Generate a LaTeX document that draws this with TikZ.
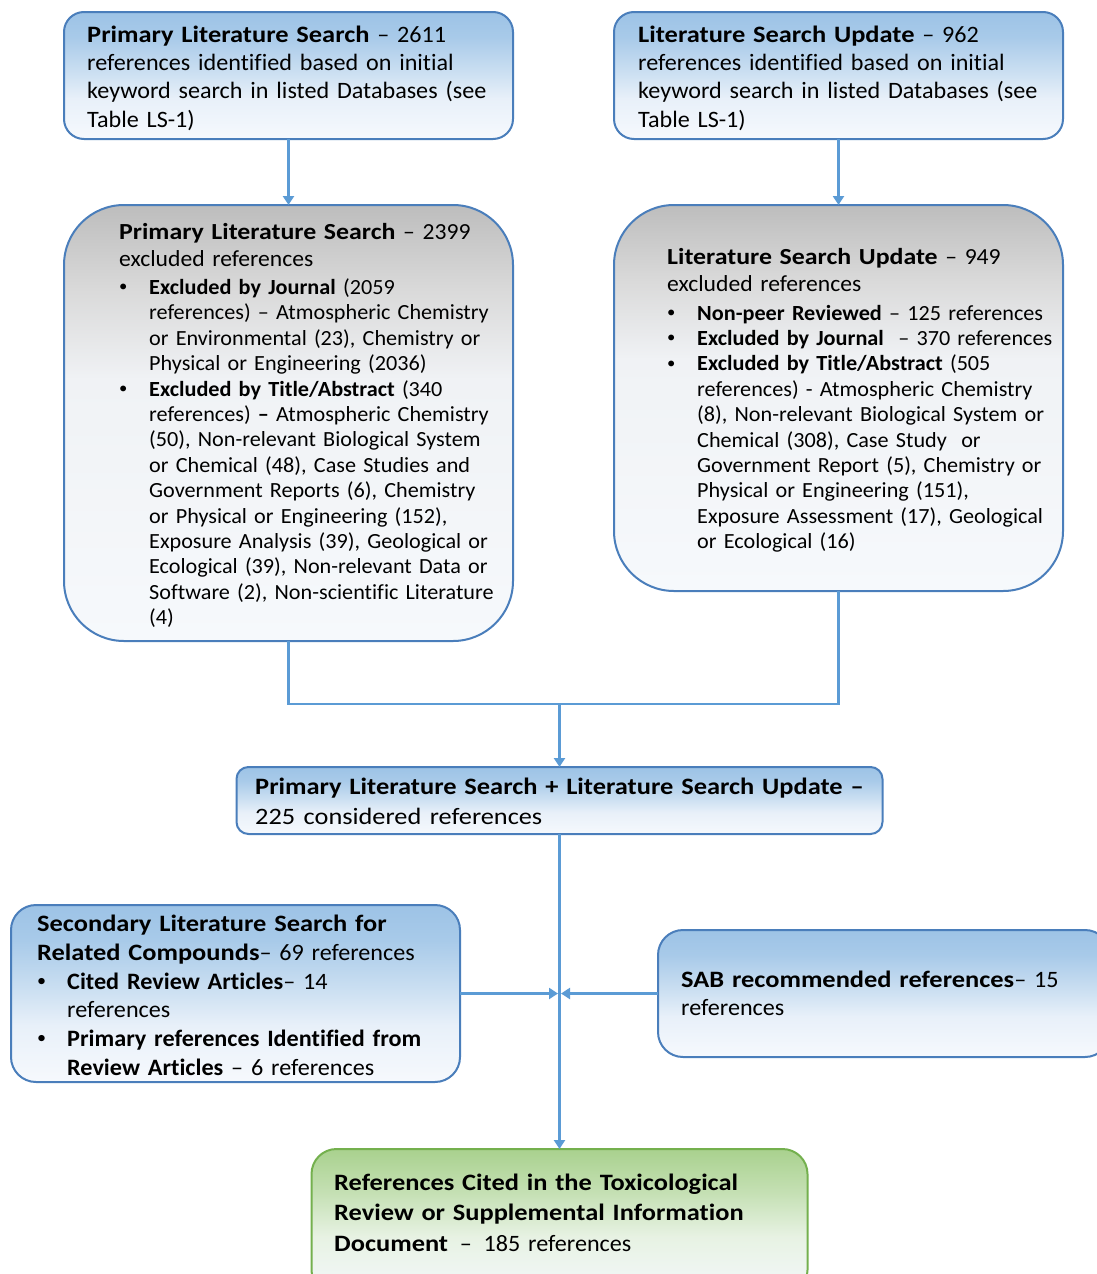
\documentclass[tikz,border=0pt]{standalone}
\usepackage{fontspec}
\setmainfont{Carlito}[Ligatures=NoCommon, UprightFeatures={FakeStretch=1.027}, BoldFeatures={FakeStretch=1.124}]
\newfontface\bulbold{Carlito Bold}[Ligatures=NoCommon, FakeStretch=1.03]
\usetikzlibrary{arrows.meta}
\definecolor{bordblue}{HTML}{4A7EBB}
\definecolor{arrblue}{HTML}{5B9BD5}
\definecolor{bordgreen}{HTML}{74B04E}
\definecolor{bTop}{HTML}{9DC3E6}
\definecolor{bA}{HTML}{A8CAE9}
\definecolor{bB}{HTML}{C9DEF1}
\definecolor{bC}{HTML}{E8F0F9}
\definecolor{bBot}{HTML}{F6F9FD}
\definecolor{gTop}{HTML}{BDBDBD}
\definecolor{gA}{HTML}{DADADA}
\definecolor{gB}{HTML}{F0F2F5}
\definecolor{gBot}{HTML}{F6F9FC}
\definecolor{nTop}{HTML}{A9D18E}
\definecolor{nA}{HTML}{C5E0B4}
\definecolor{nB}{HTML}{E7F2E3}
\definecolor{nBot}{HTML}{F4F8FB}
\pgfdeclareverticalshading{blueshade}{100bp}{color(0bp)=(bBot); color(25bp)=(bBot); color(41bp)=(bC); color(52bp)=(bB); color(65bp)=(bA); color(75bp)=(bTop); color(100bp)=(bTop)}
\pgfdeclareverticalshading{grayshade}{100bp}{color(0bp)=(gBot); color(25bp)=(gBot); color(55bp)=(gB); color(65bp)=(gA); color(75bp)=(gTop); color(100bp)=(gTop)}
\pgfdeclareverticalshading{greenshade}{100bp}{color(0bp)=(nBot); color(25bp)=(nBot); color(45bp)=(nB); color(60bp)=(nA); color(75bp)=(nTop); color(100bp)=(nTop)}
\newcommand\fa{\fontsize{23.5}{28.4}\selectfont}
\newcommand\fas{\fontsize{23.5}{28.8}\selectfont}
\newcommand\faf{\fontsize{23.5}{30.5}\selectfont}
\newcommand\fat{\fontsize{23}{27.6}\selectfont}
\newcommand\fb{\fontsize{21.6}{25.4}\selectfont}
\newcommand\bb[1]{{\bulbold #1}}
\newcommand\mybul{\makebox[30pt][l]{\hspace{0pt}\raisebox{0.12em}{\scalebox{0.75}{\textbullet}}}}
\newcommand\myind{\hspace*{30pt}}
\tikzset{
  box/.style={draw=bordblue, line width=2pt, shade, inner sep=0pt, outer sep=0pt},
  bluebox/.style={box, shading=blueshade},
  graybox/.style={box, shading=grayshade},
  greenbox/.style={box, draw=bordgreen, shading=greenshade},
  txt/.style={anchor=base west, inner sep=0pt, text width=800pt, align=left, font=\fa},
  conn/.style={draw=arrblue, line width=2.6pt},
  arr/.style={conn, -{Triangle[length=9pt,width=11pt]}},
}
\begin{document}
\begin{tikzpicture}[x=1pt,y=-1pt]
\useasboundingbox (0,0) rectangle (1096,1274);
% boxes
\node[bluebox, minimum width=449pt, minimum height=127pt, rounded corners=20pt] (tl) at (288.5,75.5) {};
\node[bluebox, minimum width=449pt, minimum height=127pt, rounded corners=20pt] (tr) at (838.5,75.5) {};
\node[graybox, minimum width=449pt, minimum height=436pt, rounded corners=60pt] (gl) at (288.5,423) {};
\node[graybox, minimum width=449pt, minimum height=386pt, rounded corners=60pt] (gr) at (838.5,398) {};
\node[bluebox, minimum width=646pt, minimum height=67pt, rounded corners=12pt] (mg) at (559.5,800.5) {};
\node[bluebox, minimum width=449pt, minimum height=177pt, rounded corners=25pt] (sl) at (235.5,993.5) {};
\node[bluebox, minimum width=452pt, minimum height=127pt, rounded corners=25pt] (sab) at (884,993.5) {};
\node[greenbox, minimum width=496pt, minimum height=146pt, rounded corners=25pt] (fin) at (559.5,1222) {};
% connectors
\coordinate (j) at (559.5,704);
\coordinate (cl) at (558,993.5);
\coordinate (cr) at (561,993.5);
\draw[arr] (tl.south) -- (gl.north);
\draw[arr] (tr.south) -- (gr.north);
\draw[conn] (gl.south) |- (j) -| (gr.south);
\draw[arr] (j) -- (mg.north);
\draw[arr] (mg.south) -- (fin.north);
\draw[arr] (sl.east) -- (cl);
\draw[arr] (sab.west) -- (cr);
% texts
\node[txt] (tlt) at (87,42) {\textbf{Primary Literature Search} – 2611\\
references identified based on initial\\
keyword search in listed Databases (see\\
Table LS-1)};
\node[txt] (trt) at (638,42) {\textbf{Literature Search Update} – 962\\
references identified based on initial\\
keyword search in listed Databases (see\\
Table LS-1)};
\node[txt, font=\fat] (glt) at (119,239) {\textbf{Primary Literature Search} – 2399\\
excluded references};
\node[txt, font=\fb] (glb) at (119,294.5) {\mybul\bb{Excluded by Journal} (2059\\
\myind references) – Atmospheric Chemistry\\
\myind or Environmental (23), Chemistry or\\
\myind Physical or Engineering (2036)\\
\mybul\bb{Excluded by Title/Abstract} (340\\
\myind references) \bb{–} Atmospheric Chemistry\\
\myind (50), Non-relevant Biological System\\
\myind or Chemical (48), Case Studies and\\
\myind Government Reports (6), Chemistry\\
\myind or Physical or Engineering (152),\\
\myind Exposure Analysis (39), Geological or\\
\myind Ecological (39), Non-relevant Data or\\
\myind Software (2), Non-scientific Literature\\
\myind (4)};
\node[txt, font=\fat] (grt) at (667,264) {\textbf{Literature Search Update} – 949\\
excluded references};
\node[txt, font=\fb] (grb) at (667,320) {\mybul\bb{Non-peer Reviewed} – 125 references\\
\mybul\bb{Excluded by Journal} \ – 370 references\\
\mybul\bb{Excluded by Title/Abstract} (505\\
\myind references) - Atmospheric Chemistry\\
\myind (8), Non-relevant Biological System or\\
\myind Chemical (308), Case Study\ \ or\\
\myind Government Report (5), Chemistry or\\
\myind Physical or Engineering (151),\\
\myind Exposure Assessment (17), Geological\\
\myind or Ecological (16)};
\node[txt] (mgt) at (255,794) {\textbf{Primary Literature Search + Literature Search Update –}\\[1.6pt]
\scalebox{1.09}[1]{225 considered references}};
\node[txt, font=\fas] (slt) at (37,931.5) {\textbf{Secondary Literature Search for}\\
\textbf{Related Compounds}– 69 references\\
\mybul\bb{Cited Review Articles}– 14\\
\myind references\\
\mybul\bb{Primary references Identified from}\\
\myind\bb{Review Articles} – 6 references};
\node[txt, font=\fas] (sabt) at (681,987) {\textbf{SAB recommended references}– 15\\
references};
\node[txt, font=\faf] (fint) at (334,1190) {\textbf{References Cited in the Toxicological}\\
\textbf{Review or Supplemental Information}\\
\textbf{Document} \,– \,185 references};
\end{tikzpicture}
\end{document}
